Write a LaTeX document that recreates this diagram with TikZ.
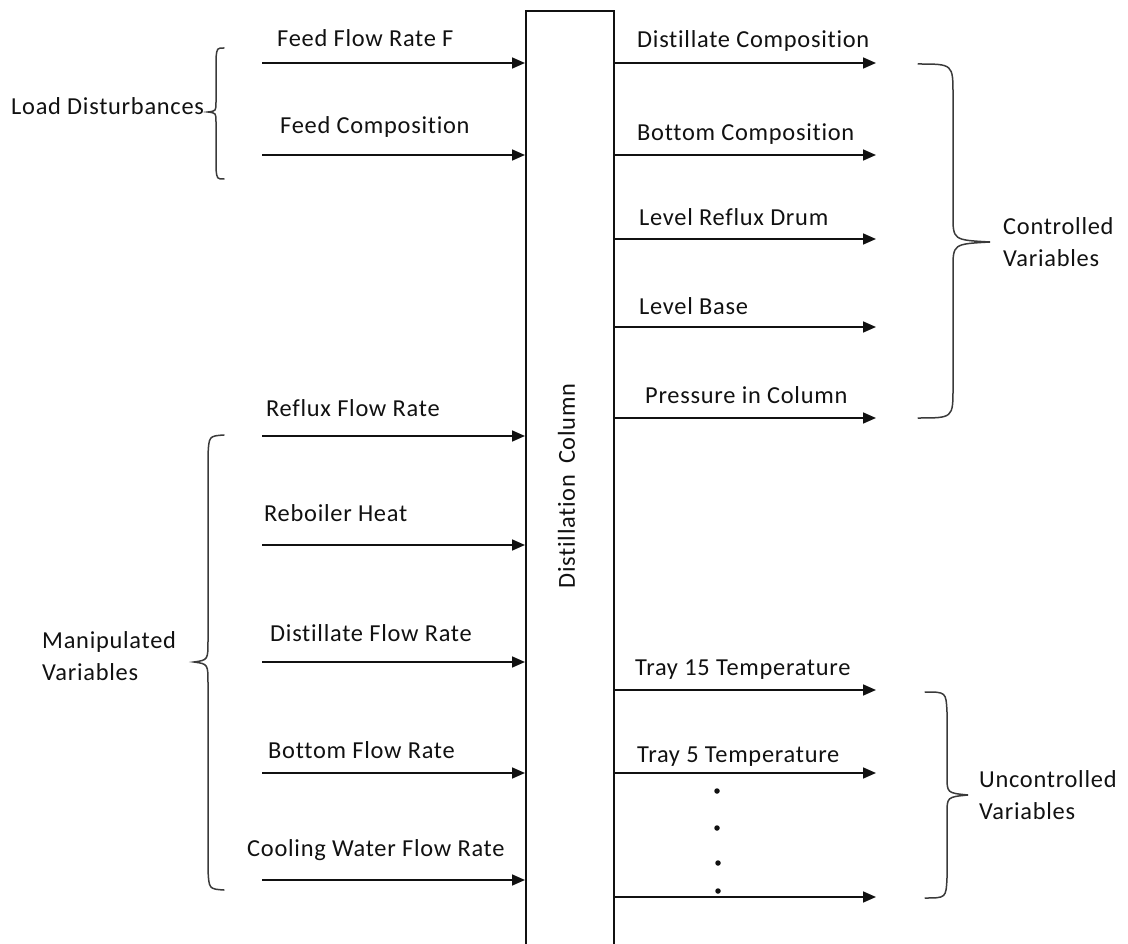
\documentclass[tikz,border=0pt]{standalone}
\usepackage{fontspec}
\setmainfont{Carlito}[LetterSpace=3, Ligatures=NoCommon]
\usetikzlibrary{arrows.meta}
\definecolor{txt}{HTML}{111111}
\definecolor{ln}{HTML}{111111}
\definecolor{br}{HTML}{3A3A3A}
\begin{document}
\begin{tikzpicture}[x=1pt,y=-1pt,
  lbl/.style={font=\fontsize{24.4}{31}\selectfont, text=txt, inner sep=0pt, anchor=base west},
  grp/.style={font=\fontsize{24.4}{31.5}\selectfont, text=txt, inner sep=0pt, anchor=west, align=left},
  flow/.style={line width=1.7pt, draw=ln, -{Triangle[length=13pt,width=11pt]}},
  brace/.style={line width=1.5pt, draw=br, line cap=round},
  column/.style={draw=ln, line width=1.7pt, fill=white, minimum width=88pt, minimum height=960pt, anchor=north west, inner sep=0pt},
  dot/.style={circle, fill=ln, inner sep=0pt, minimum size=5.5pt}]
\useasboundingbox (0,0) rectangle (1128,944);

% the column
\node[column] (col) at (525,10) {};
\node[font=\fontsize{24.4}{31}\selectfont, text=txt, inner sep=0pt, rotate=90] (colname) at (566.5,486) {Distillation\hspace{0.45em}Column};

% inputs on the left
\foreach \n/\y in {l1/63, l2/155, l3/436, l4/545, l5/662, l6/773, l7/880}
  \coordinate (\n) at (262,\y);
\foreach \n in {l1,l2,l3,l4,l5,l6,l7}
  \draw[flow] (\n) -- (\n -| col.west);

\node[lbl] (feedF)  at (277,47)  {Feed Flow Rate F};
\node[lbl] (feedC)  at (280,134) {Feed Composition};
\node[lbl] (reflux) at (266,416) {Reflux Flow Rate};
\node[lbl] (reboil) at (264,521) {Reboiler Heat};
\node[lbl] (distF)  at (270,641) {Distillate Flow Rate};
\node[lbl] (botF)   at (268,758) {Bottom Flow Rate};
\node[lbl] (cool)   at (247,856) {Cooling Water Flow Rate};

% outputs on the right
\foreach \n/\y in {r1/63, r2/155, r3/239, r4/327, r5/418, r6/690, r7/773, r8/897}
  \coordinate (\n) at (876,\y);
\foreach \n in {r1,r2,r3,r4,r5,r6,r7,r8}
  \draw[flow] (col.east |- \n) -- (\n);

\node[lbl] (distC)  at (637,48)  {Distillate Composition};
\node[lbl] (botC)   at (637,141) {Bottom Composition};
\node[lbl] (lvlRD)  at (639,226) {Level Reflux Drum};
\node[lbl] (lvlB)   at (639,315) {Level Base};
\node[lbl] (press)  at (645,403) {Pressure in Column};
\node[lbl] (tray15) at (635,675) {Tray 15 Temperature};
\node[lbl] (tray5)  at (637,762) {Tray 5 Temperature};

% ellipsis between the tray outputs
\foreach \n/\x/\y in {d1/717/791, d2/717/828, d3/718/863, d4/718/891}
  \node[dot] (\n) at (\x,\y) {};

% group labels
\node[lbl] (load) at (11,115) {Load Disturbances};
\node[grp] (manip) at (42,656) {Manipulated\\Variables};
\node[grp] (ctrl)  at (1003,242) {Controlled\\Variables};
\node[grp] (unctrl) at (979,795) {Uncontrolled\\Variables};

% braces
\draw[brace] (224,48) .. controls (217,48) .. (216,58) -- (216,102)
  .. controls (216,111) .. (208,112) .. controls (216,113) .. (216,122)
  -- (216,169) .. controls (217,179) .. (224,179);
\draw[brace] (224,435) .. controls (209,436) .. (208,455) -- (208,640)
  .. controls (208,660) .. (194,662) .. controls (208,664) .. (208,684)
  -- (208,870) .. controls (209,889) .. (224,890);
\draw[brace] (918,64) .. controls (953,64) .. (953,95) -- (953,215)
  .. controls (953,240) .. (990,242) .. controls (953,244) .. (953,269)
  -- (953,388) .. controls (953,418) .. (918,418);
\draw[brace] (925,692) .. controls (946,692) .. (947,712) -- (947,776)
  .. controls (947,793) .. (968,795) .. controls (947,797) .. (947,814)
  -- (947,878) .. controls (946,898) .. (925,898);
\end{tikzpicture}
\end{document}
